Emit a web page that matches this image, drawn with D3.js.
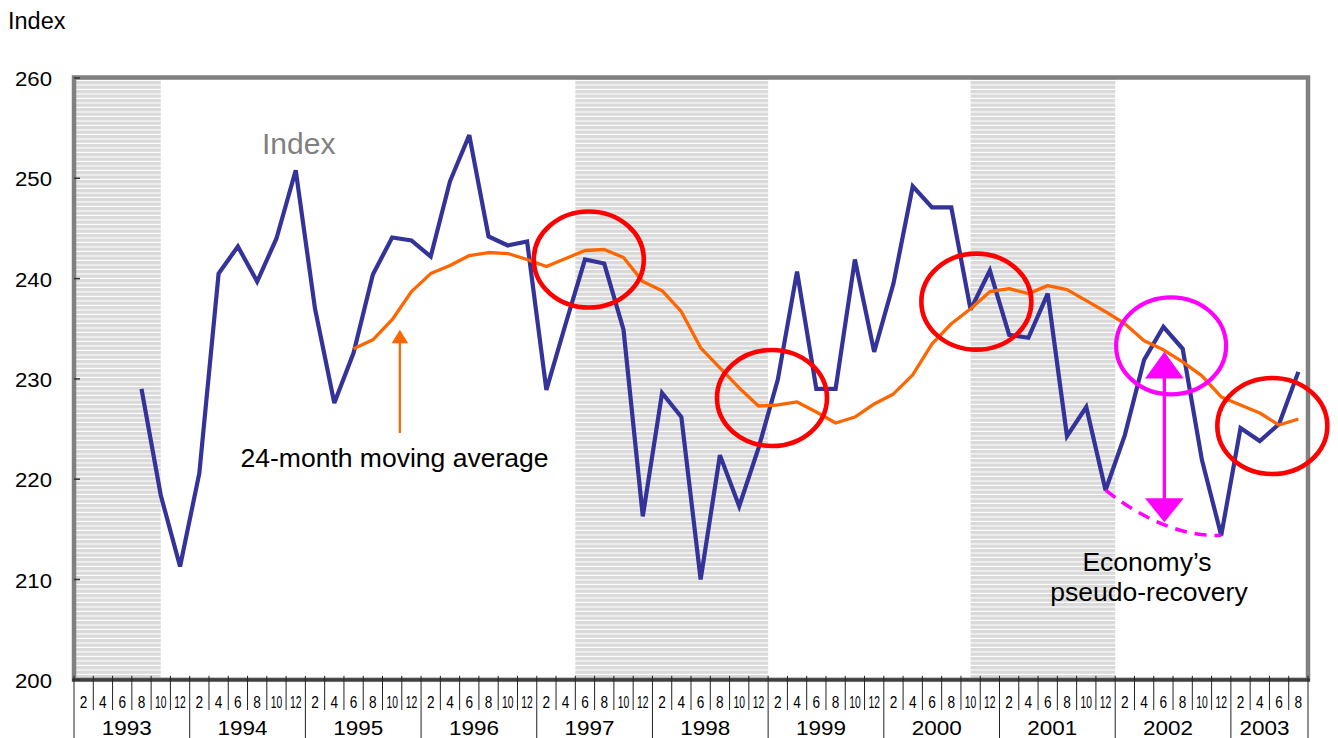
<!DOCTYPE html>
<html>
<head>
<meta charset="utf-8">
<script src="https://cdn.jsdelivr.net/npm/d3@7"></script>
<style>
  html, body { margin: 0; padding: 0; background: #fff; }
  svg { display: block; font-family: "Liberation Sans", Arial, sans-serif; }
</style>
</head>
<body>
<svg id="chart" width="1338" height="738"></svg>
<script>
// ---- data -------------------------------------------------------------
const years = [1993, 1994, 1995, 1996, 1997, 1998, 1999, 2000, 2001, 2002, 2003];
const monthLabels = [2, 4, 6, 8, 10, 12];
const lastYearMonths = [2, 4, 6, 8];
const yTicks = [200, 210, 220, 230, 240, 250, 260];

// bimonthly index readings, first one is August 1993
const indexStart = { year: 1993, month: 8 };
const indexValues = [
  229.0, 218.4, 211.3,
  220.6, 240.5, 243.2, 239.7, 244.0, 250.8,
  237.0, 227.6, 232.6, 240.4, 244.1, 243.8,
  242.2, 249.7, 254.3, 244.2, 243.3, 243.7,
  228.9, 235.5, 241.9, 241.5, 234.9, 216.3,
  228.6, 226.2, 210.0, 222.4, 217.3, 223.1,
  229.9, 240.7, 229.0, 229.0, 241.9, 232.7,
  239.5, 249.2, 247.1, 247.1, 236.9, 240.8,
  234.4, 234.1, 238.5, 224.3, 227.2, 218.9,
  224.4, 231.9, 235.2, 233.0, 221.9, 214.4,
  225.1, 223.8, 225.5, 230.7
];

// 24-month moving average, first one is June 1995
const maStart = { year: 1995, month: 6 };
const maValues = [
  233.0, 233.9, 235.9, 238.7,
  240.5, 241.3, 242.3, 242.6, 242.5, 241.9,
  241.2, 242.0, 242.8, 242.9, 242.1, 239.7,
  238.8, 236.7, 233.1, 231.1, 229.1, 227.3,
  227.4, 227.7, 226.7, 225.6, 226.2, 227.5,
  228.5, 230.4, 233.5, 235.5, 237.0, 238.7,
  239.0, 238.5, 239.3, 238.9, 237.8, 236.7,
  235.5, 233.8, 232.9, 231.7, 230.3, 228.2,
  227.4, 226.6, 225.4, 226.0
];

// recession periods (first and last month, inclusive)
const recessions = [
  { from: { year: 1993, month: 1 },  to: { year: 1993, month: 9 } },
  { from: { year: 1997, month: 5 },  to: { year: 1998, month: 12 } },
  { from: { year: 2000, month: 10 }, to: { year: 2001, month: 12 } }
];

// highlighted turning points: [month offset, index value]
const redRings = [[53.4, 241.9], [72.4, 228.1], [93.6, 237.7], [124.3, 225.3]];
const pinkRing = [113.8, 233.3];

// ---- scales -------------------------------------------------------------
const monthOf = (y, m) => (y - years[0]) * 12 + (m - 1);
const totalMonths = (years.length - 1) * 12 + lastYearMonths[lastYearMonths.length - 1];

const x = d3.scaleLinear().domain([0, totalMonths]).range([74, 1308]);
const y = d3.scaleLinear().domain([200, 260]).range([679.8, 78]);

const series = (start, values) => values.map((v, i) => ({
  m: monthOf(start.year, start.month) + 2 * i, v
}));
const indexSeries = series(indexStart, indexValues);
const maSeries = series(maStart, maValues);

const svg = d3.select("#chart");
const defs = svg.append("defs");

// striped fill for recession bands
const pat = defs.append("pattern")
  .attr("id", "stripes").attr("patternUnits", "userSpaceOnUse")
  .attr("width", 10).attr("height", 4.5);
pat.append("rect").attr("width", 10).attr("height", 4.5).attr("fill", "#d9d9d9");
pat.append("rect").attr("y", 3.4).attr("width", 10).attr("height", 1.1).attr("fill", "#ffffff");

// ---- recession bands ------------------------------------------------------
svg.append("g").selectAll("rect").data(recessions).join("rect")
  .attr("x", d => x(monthOf(d.from.year, d.from.month)))
  .attr("width", d => x(monthOf(d.to.year, d.to.month) + 1) - x(monthOf(d.from.year, d.from.month)))
  .attr("y", y(260))
  .attr("height", y(200) - y(260))
  .attr("fill", "url(#stripes)");

// ---- lines --------------------------------------------------------------
const line = d3.line().x(d => x(d.m)).y(d => y(d.v));

svg.append("path").datum(indexSeries)
  .attr("d", line)
  .attr("fill", "none")
  .attr("stroke", "#333399")
  .attr("stroke-width", 4.2)
  .attr("stroke-linejoin", "miter")
  .attr("stroke-miterlimit", 3);

svg.append("path").datum(maSeries)
  .attr("d", line)
  .attr("fill", "none")
  .attr("stroke", "#ff6600")
  .attr("stroke-width", 3.3)
  .attr("stroke-linejoin", "round");

// ---- frame & y axis -------------------------------------------------------
svg.append("rect")
  .attr("x", x(0)).attr("y", y(260) - 0.5)
  .attr("width", x(totalMonths) - x(0))
  .attr("height", y(200) - y(260) + 0.5)
  .attr("fill", "none")
  .attr("stroke", "#808080")
  .attr("stroke-width", 4.5);

svg.append("line")
  .attr("x1", x(0) - 2).attr("x2", x(totalMonths) + 2)
  .attr("y1", y(200)).attr("y2", y(200))
  .attr("stroke", "#404040").attr("stroke-width", 3);

const yAxis = svg.append("g");
yAxis.selectAll("line").data(yTicks).join("line")
  .attr("x1", x(0)).attr("x2", x(0) + 6)
  .attr("y1", d => y(d)).attr("y2", d => y(d))
  .attr("stroke", "#333").attr("stroke-width", 1.5);
yAxis.selectAll("text").data(yTicks).join("text")
  .attr("x", 52).attr("y", d => y(d) + 8)
  .attr("text-anchor", "end")
  .attr("font-size", 20)
  .attr("textLength", 37).attr("lengthAdjust", "spacingAndGlyphs")
  .attr("fill", "#000")
  .text(d => d);

svg.append("text")
  .attr("x", 8).attr("y", 29)
  .attr("font-size", 23.5)
  .attr("fill", "#000")
  .text("Index");

// ---- x axis: bimonthly cells and years -----------------------------------
const xAxis = svg.append("g");
const cells = [];
years.forEach(yr => {
  const ms = yr === years[years.length - 1] ? lastYearMonths : monthLabels;
  ms.forEach(m => cells.push({ yr, m, mid: monthOf(yr, m) }));
});

// separators between cells
const boundaries = d3.range(0, totalMonths + 1, 2);
xAxis.selectAll("line.cell").data(boundaries).join("line")
  .attr("class", "cell")
  .attr("x1", d => x(d)).attr("x2", d => x(d))
  .attr("y1", y(200) - 4)
  .attr("y2", d => (d % 12 === 0 || d === totalMonths) ? 738 : 710)
  .attr("stroke", "#222").attr("stroke-width", 1);

xAxis.selectAll("text.month").data(cells).join("text")
  .attr("class", "month")
  .attr("x", d => x(d.mid)).attr("y", 708)
  .attr("text-anchor", "middle")
  .attr("font-size", 16.5)
  .attr("textLength", d => d.m >= 10 ? 11.5 : 7.6)
  .attr("lengthAdjust", "spacingAndGlyphs")
  .attr("fill", "#000")
  .text(d => d.m);

xAxis.selectAll("text.year").data(years).join("text")
  .attr("class", "year")
  .attr("x", yr => {
    const span = yr === years[years.length - 1] ? lastYearMonths[lastYearMonths.length - 1] : 12;
    return x(monthOf(yr, 1) + span / 2) - 5;
  })
  .attr("y", 734.5)
  .attr("text-anchor", "middle")
  .attr("font-size", 20)
  .attr("textLength", 50).attr("lengthAdjust", "spacingAndGlyphs")
  .attr("fill", "#000")
  .text(yr => yr);

// ---- annotations ----------------------------------------------------------
svg.append("text")
  .attr("x", 262).attr("y", 153.5)
  .attr("font-size", 30)
  .attr("fill", "#808080")
  .text("Index");

// arrow pointing at the moving average
const oaX = x(33.8), oaTip = y(234.9), oaTail = y(224.6);
svg.append("line")
  .attr("x1", oaX).attr("x2", oaX)
  .attr("y1", oaTail).attr("y2", oaTip + 10)
  .attr("stroke", "#ff6600").attr("stroke-width", 2.2);
svg.append("path")
  .attr("d", `M${oaX},${oaTip} L${oaX - 8.3},${oaTip + 13.4} L${oaX + 8.3},${oaTip + 13.4} Z`)
  .attr("fill", "#ff6600");

svg.append("text")
  .attr("x", 240.5).attr("y", 467)
  .attr("font-size", 25.5)
  .attr("textLength", 308).attr("lengthAdjust", "spacingAndGlyphs")
  .attr("fill", "#000")
  .text("24-month moving average");

// dashed trough-to-trough curve
const c0 = [x(monthOf(2001, 12)), y(indexValues[indexValues.length - 11])];
const c2 = [x(monthOf(2002, 12)), y(indexValues[indexValues.length - 5])];
const c1 = [x(113.3), y(214.2)];
svg.append("path")
  .attr("d", `M${c0[0]},${c0[1]} Q${c1[0]},${c1[1]} ${c2[0]},${c2[1]}`)
  .attr("fill", "none")
  .attr("stroke", "#ff00ff")
  .attr("stroke-width", 3.5)
  .attr("stroke-dasharray", "12 8");

// double-headed arrow
const daX = x(113.1), daTop = y(232.7), daBot = y(215.7);
svg.append("line")
  .attr("x1", daX).attr("x2", daX)
  .attr("y1", daTop + 20).attr("y2", daBot - 20)
  .attr("stroke", "#ff00ff").attr("stroke-width", 3.3);
svg.append("path")
  .attr("d", `M${daX},${daTop} L${daX - 19.3},${daTop + 26.6} L${daX + 19.3},${daTop + 26.6} Z`)
  .attr("fill", "#ff00ff");
svg.append("path")
  .attr("d", `M${daX},${daBot} L${daX - 19.3},${daBot - 24} L${daX + 19.3},${daBot - 24} Z`)
  .attr("fill", "#ff00ff");

// rings around turning points
svg.append("g").selectAll("ellipse").data(redRings).join("ellipse")
  .attr("cx", d => x(d[0])).attr("cy", d => y(d[1]))
  .attr("rx", 55).attr("ry", 48)
  .attr("fill", "none")
  .attr("stroke", "#ff0000")
  .attr("stroke-width", 4.6);

svg.append("ellipse")
  .attr("cx", x(pinkRing[0])).attr("cy", y(pinkRing[1]))
  .attr("rx", 55).attr("ry", 48.5)
  .attr("fill", "none")
  .attr("stroke", "#ff00ff")
  .attr("stroke-width", 4.2);

const note = svg.append("text")
  .attr("font-size", 26.5)
  .attr("text-anchor", "middle")
  .attr("fill", "#000");
note.append("tspan").attr("x", 1147).attr("y", 571).text("Economy\u2019s");
note.append("tspan").attr("x", 1149).attr("y", 601).text("pseudo-recovery");
</script>
</body>
</html>
